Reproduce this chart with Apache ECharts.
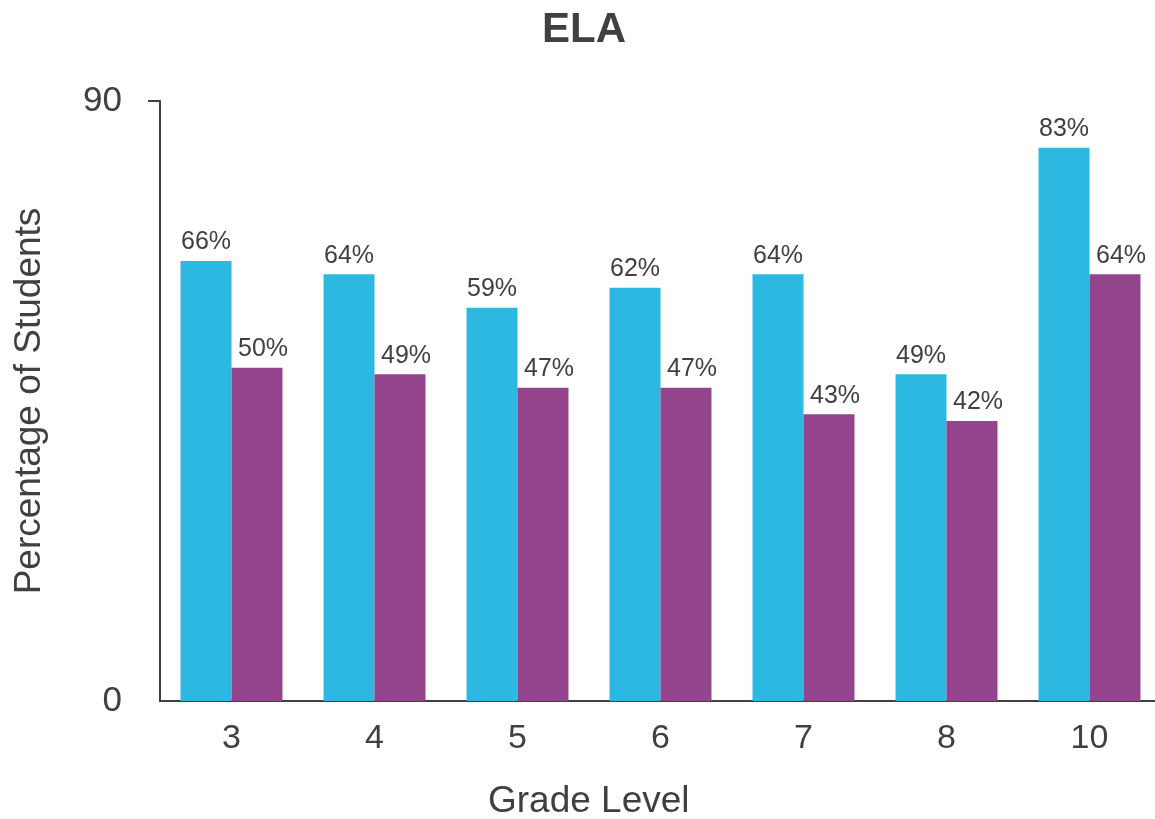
<!DOCTYPE html>
<html>
<head>
<meta charset="utf-8">
<script src="https://cdn.jsdelivr.net/npm/echarts@6/dist/echarts.min.js"></script>
<style>
  html, body { margin: 0; padding: 0; background: #fff; }
  #chart { width: 1155px; height: 819px; }
</style>
</head>
<body>
<div id="chart"></div>
<script>
// grade levels and percent of students
var grades = ['3', '4', '5', '6', '7', '8', '10']
var seriesA = [66, 64, 59, 62, 64, 49, 83]
var seriesB = [50, 49, 47, 47, 43, 42, 64]
var yTicks = [0, 90]

var textColor = '#404040'
var font = 'Liberation Sans'
var myChart = echarts.init(document.getElementById('chart'))
var option = {
  animation: false,
  title: [
    {
      text: 'ELA',
      left: 537,
      top: 4,
      textStyle: { fontFamily: font, fontSize: 42, fontWeight: 'bold', color: textColor }
    },
    {
      // x axis name, sits left of the plot centre like the original
      text: 'Grade Level',
      left: 483,
      top: 778,
      textStyle: { fontFamily: font, fontSize: 37, fontWeight: 'normal', color: textColor }
    }
  ],
  grid: { left: 160, right: -6, top: 101, bottom: 118, outerBoundsMode: 'none' },
  xAxis: {
    type: 'category',
    data: grades,
    axisLine: { lineStyle: { color: '#404040', width: 2 } },
    axisTick: { show: false },
    axisLabel: { fontFamily: font, fontSize: 34, color: textColor, margin: 21 }
  },
  yAxis: {
    type: 'value',
    min: 0,
    max: 90,
    interval: 90,
    name: 'Percentage of Students',
    nameLocation: 'middle',
    nameGap: 112,
    nameTextStyle: { fontFamily: font, fontSize: 37, color: textColor },
    splitLine: { show: false },
    axisLine: { show: true, lineStyle: { color: '#404040', width: 2 } },
    axisTick: { show: true, length: 12, customValues: [yTicks[1]], lineStyle: { color: '#404040', width: 2 } },
    axisLabel: { fontFamily: font, fontSize: 35, color: textColor, margin: 38, customValues: yTicks }
  },
  series: [
    {
      type: 'bar',
      data: seriesA,
      barGap: '0%',
      barCategoryGap: '28.7%',
      itemStyle: { color: '#2DB8E2' },
      label: { show: true, position: 'top', formatter: '{c}%', distance: 6, fontFamily: font, fontSize: 25, color: textColor }
    },
    {
      type: 'bar',
      data: seriesB,
      itemStyle: { color: '#94448C' },
      label: { show: true, position: 'top', formatter: '{c}%', distance: 6, offset: [6, 0], fontFamily: font, fontSize: 25, color: textColor }
    }
  ]
}
option && myChart.setOption(option)
</script>
</body>
</html>
